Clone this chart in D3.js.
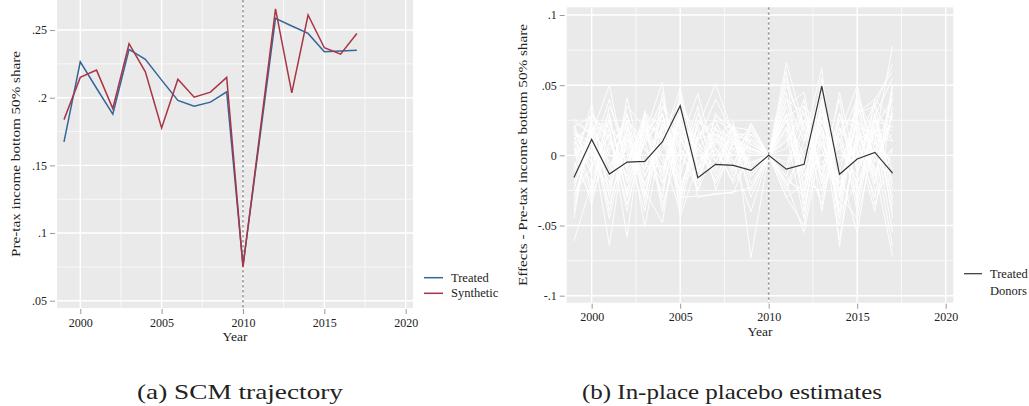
<!DOCTYPE html>
<html>
<head>
<meta charset="utf-8">
<script src="https://cdn.jsdelivr.net/npm/d3@7"></script>
<style>
  html, body { margin: 0; padding: 0; background: #fff; }
  svg { display: block; }
  svg text { font-family: "Liberation Serif", "Times New Roman", serif; fill: #222; }
</style>
</head>
<body>
<svg id="fig" width="1029" height="406"></svg>
<script>
// ---- data -------------------------------------------------------------
const years = [1999, 2000, 2001, 2002, 2003, 2004, 2005, 2006, 2007, 2008,
               2009, 2010, 2011, 2012, 2013, 2014, 2015, 2016, 2017];
const treatYear = 2010;

// Panel (a): bottom 50% pre-tax income share
const treatedShare = [0.1673, 0.2265, 0.2070, 0.1878, 0.2357, 0.2283, 0.2130, 0.1980, 0.1937, 0.1967,
                      0.2043, 0.0759, 0.1670, 0.2587, 0.2530, 0.2475, 0.2340, 0.2345, 0.2350];
const syntheticShare = [0.1838, 0.2150, 0.2204, 0.1920, 0.2399, 0.2191, 0.1776, 0.2137, 0.2004, 0.2041,
                        0.2150, 0.0750, 0.1700, 0.2656, 0.2036, 0.2611, 0.2369, 0.2322, 0.2475];

// Panel (b): in-place placebo effects
const treatedEffect = [-0.0157, 0.0114, -0.0133, -0.0048, -0.0043, 0.0097, 0.0353, -0.0160, -0.0064, -0.0071,
                       -0.0107, 0, -0.0098, -0.0064, 0.0494, -0.0135, -0.0026, 0.0021, -0.0126];

const donorEffects = [
  [0.012, 0.020, -0.008, 0.015, -0.010, 0.022, 0.005, -0.012, 0.010, 0.004, -0.006, 0, 0.030, -0.015, 0.020, -0.025, 0.015, 0.008, 0.022],
  [-0.061, -0.020, 0.010, -0.015, 0.018, -0.005, 0.012, 0.008, -0.004, 0.015, 0.010, 0, 0.066, 0.020, -0.010, 0.012, -0.020, 0.018, -0.010],
  [0.026, 0.015, 0.050, -0.012, 0.008, 0.030, -0.020, 0.005, 0.018, 0.012, 0.004, 0, -0.020, -0.055, 0.010, -0.030, 0.025, 0.010, 0.078],
  [-0.010, 0.037, -0.030, 0.041, -0.015, 0.010, 0.048, -0.010, 0.005, -0.008, 0.023, 0, 0.040, 0.010, 0.062, -0.065, 0.020, -0.015, 0.030],
  [0.005, -0.035, 0.020, -0.058, 0.032, -0.020, 0.010, 0.044, -0.005, 0.020, -0.015, 0, 0.010, 0.030, -0.020, 0.015, 0.050, -0.010, -0.072],
  [-0.030, 0.010, -0.064, 0.020, -0.051, 0.015, -0.010, 0.020, 0.051, 0.015, -0.010, 0, 0.025, -0.030, 0.035, -0.040, 0.030, 0.040, 0.060],
  [0.018, -0.010, 0.025, -0.020, 0.015, 0.052, -0.044, -0.005, 0.012, 0.024, -0.073, 0, -0.030, -0.020, 0.025, -0.010, -0.055, 0.020, -0.040],
  [0.008, 0.025, -0.015, 0.030, -0.025, -0.048, 0.035, -0.030, -0.027, -0.027, 0.005, 0, 0.050, 0.020, -0.015, 0.030, -0.010, 0.035, 0.010],
  [-0.020, 0.005, 0.030, -0.030, 0.025, 0.010, -0.025, 0.015, 0.020, -0.010, 0.012, 0, 0.015, -0.045, 0.040, -0.050, 0.010, -0.030, 0.045],
  [0.022, -0.015, 0.005, 0.012, -0.030, 0.035, 0.020, -0.015, 0.008, 0.018, -0.020, 0, -0.015, 0.025, 0.005, -0.035, 0.040, 0.015, -0.055],
  [-0.035, 0.018, -0.040, 0.025, 0.010, -0.030, 0.040, 0.010, -0.020, 0.005, 0.015, 0, 0.035, -0.010, -0.030, 0.020, -0.040, 0.025, 0.020],
  [0.000, 0.030, 0.012, -0.025, 0.030, 0.020, -0.035, 0.025, 0.015, -0.015, 0.008, 0, -0.010, 0.035, 0.020, -0.020, 0.005, -0.040, 0.035],
  [0.015, -0.025, 0.035, 0.005, -0.040, 0.025, 0.015, -0.020, 0.022, 0.010, -0.012, 0, 0.020, -0.005, 0.030, 0.010, -0.030, 0.030, -0.025],
  [-0.015, 0.012, -0.020, 0.035, 0.020, -0.015, 0.030, 0.000, -0.012, 0.020, 0.018, 0, 0.055, 0.015, -0.025, 0.025, 0.020, -0.020, 0.050],
  [0.010, -0.005, 0.015, -0.035, 0.012, 0.040, -0.015, 0.030, 0.005, -0.020, 0.000, 0, -0.025, 0.010, 0.045, -0.045, 0.035, 0.010, -0.030],
  [-0.040, 0.020, -0.025, 0.015, -0.020, 0.005, 0.025, -0.025, 0.030, 0.012, -0.025, 0, 0.030, -0.035, 0.015, 0.005, -0.015, 0.040, 0.025],
  [0.020, 0.000, 0.040, -0.010, 0.028, -0.035, 0.005, 0.018, -0.015, 0.008, 0.020, 0, 0.005, 0.040, -0.040, 0.030, -0.025, 0.005, 0.015],
  [-0.005, -0.030, 0.008, 0.020, -0.010, 0.030, -0.030, 0.012, 0.025, -0.005, -0.040, 0, -0.020, 0.005, 0.010, -0.025, 0.025, -0.025, -0.015],
  [0.015, 0.010, -0.035, 0.010, 0.005, -0.020, 0.045, -0.005, 0.010, 0.020, 0.010, 0, 0.045, -0.025, 0.050, -0.015, 0.010, 0.020, 0.040],
  [-0.025, 0.025, 0.020, -0.040, 0.022, 0.015, -0.005, 0.035, -0.025, 0.010, -0.005, 0, 0.010, 0.025, -0.010, 0.040, -0.035, 0.030, -0.045],
  [0.005, -0.020, -0.010, 0.025, -0.035, 0.045, -0.030, -0.029, -0.028, -0.026, -0.023, 0, -0.030, -0.050, 0.020, -0.060, 0.015, -0.010, 0.005],
  [0.024, 0.015, -0.015, 0.005, 0.015, -0.010, 0.020, 0.010, 0.040, 0.015, 0.015, 0, 0.020, -0.015, 0.000, 0.015, 0.030, 0.035, 0.065],
  [-0.008, 0.005, 0.025, -0.018, 0.010, 0.025, -0.020, -0.010, 0.015, 0.005, 0.005, 0, -0.005, 0.020, 0.035, -0.030, 0.045, -0.005, 0.028],
  [0.010, -0.012, 0.002, 0.028, -0.005, -0.025, 0.030, 0.020, 0.000, 0.022, -0.010, 0, 0.025, 0.000, -0.035, 0.020, -0.005, 0.025, -0.020],
  [-0.018, 0.022, -0.005, -0.008, 0.030, 0.010, 0.000, -0.018, 0.020, -0.012, 0.012, 0, -0.015, -0.030, 0.025, -0.005, 0.020, 0.015, 0.010],
  [0.002, 0.008, 0.018, 0.008, -0.022, 0.020, 0.015, 0.005, -0.008, 0.015, -0.030, 0, 0.040, 0.030, 0.015, -0.040, -0.020, 0.005, -0.065],
  [0.018, -0.005, -0.022, 0.018, 0.005, -0.012, 0.025, -0.008, 0.012, 0.000, 0.018, 0, 0.018, -0.020, -0.025, 0.010, 0.040, -0.015, 0.030],
  [-0.045, 0.030, 0.000, -0.005, 0.020, 0.000, -0.040, 0.015, 0.025, 0.018, 0.008, 0, 0.060, -0.040, 0.030, -0.020, 0.000, 0.028, 0.055],
  [0.008, -0.028, 0.028, -0.028, 0.012, 0.035, 0.005, -0.025, 0.005, -0.018, 0.022, 0, -0.008, 0.015, -0.005, 0.005, 0.015, -0.035, 0.005],
  [-0.012, 0.015, -0.045, 0.012, -0.015, 0.018, 0.038, 0.005, -0.018, 0.010, -0.008, 0, 0.012, -0.010, 0.055, -0.028, -0.045, 0.010, -0.005],
  [0.020, 0.028, 0.010, -0.015, 0.025, -0.040, 0.022, 0.012, 0.015, 0.008, 0.002, 0, 0.028, 0.035, -0.015, 0.025, 0.025, 0.000, 0.040],
  [-0.028, -0.008, 0.015, 0.022, -0.028, 0.015, -0.028, 0.025, 0.010, -0.005, 0.015, 0, -0.022, -0.005, 0.008, -0.015, 0.008, 0.038, -0.035],
  [0.012, 0.002, -0.028, -0.002, 0.018, 0.028, 0.012, -0.012, 0.028, 0.020, -0.015, 0, 0.035, 0.045, -0.020, 0.045, -0.012, 0.018, 0.018],
  [-0.002, 0.018, 0.022, 0.002, -0.008, -0.008, 0.028, 0.002, -0.010, 0.012, 0.005, 0, -0.018, -0.025, 0.040, -0.012, 0.035, -0.020, 0.050]
];

// Tick values and labels
const xTicks = [2000, 2005, 2010, 2015, 2020];
const xMinor = [2002.5, 2007.5, 2012.5, 2017.5];
const yTicksA = [0.05, 0.10, 0.15, 0.20, 0.25];
const yLabelsA = [".05", ".1", ".15", ".2", ".25"];
const yMinorA = [0.075, 0.125, 0.175, 0.225];
const yTicksB = [-0.1, -0.05, 0, 0.05, 0.1];
const yLabelsB = ["-.1", "-.05", "0", ".05", ".1"];
const yMinorB = [-0.075, -0.025, 0.025, 0.075];

const seriesNamesA = ["Treated", "Synthetic"];
const seriesNamesB = ["Treated", "Donors"];

// ---- styling ----------------------------------------------------------
const serifStack = '"Liberation Serif", "Times New Roman", serif';
const colTreated = "#33679a";
const colSynth = "#a83545";
const colEffect = "#333333";
const panelBg = "#eaeaea";

const svg = d3.select("#fig");

function drawPanel(cfg) {
  const g = svg.append("g");
  const x = d3.scaleLinear().domain(cfg.xDomain).range([cfg.left, cfg.right]);
  const y = d3.scaleLinear().domain(cfg.yDomain).range([cfg.bottom, cfg.top]);

  g.append("rect")
    .attr("x", cfg.left).attr("y", cfg.top)
    .attr("width", cfg.right - cfg.left).attr("height", cfg.bottom - cfg.top)
    .attr("fill", panelBg);

  // minor grid
  g.selectAll(".vminor").data(xMinor).join("line")
    .attr("x1", d => x(d)).attr("x2", d => x(d))
    .attr("y1", cfg.top).attr("y2", cfg.bottom)
    .attr("stroke", "#fff").attr("stroke-width", 0.7);
  g.selectAll(".hminor").data(cfg.yMinor).join("line")
    .attr("x1", cfg.left).attr("x2", cfg.right)
    .attr("y1", d => y(d)).attr("y2", d => y(d))
    .attr("stroke", "#fff").attr("stroke-width", 0.7);
  // major grid
  g.selectAll(".vmajor").data(xTicks).join("line")
    .attr("x1", d => x(d)).attr("x2", d => x(d))
    .attr("y1", cfg.top).attr("y2", cfg.bottom)
    .attr("stroke", "#fff").attr("stroke-width", 1.4);
  g.selectAll(".hmajor").data(cfg.yTicks).join("line")
    .attr("x1", cfg.left).attr("x2", cfg.right)
    .attr("y1", d => y(d)).attr("y2", d => y(d))
    .attr("stroke", "#fff").attr("stroke-width", 1.4);

  // axes
  const yAxis = d3.axisLeft(y).tickValues(cfg.yTicks)
    .tickFormat((d, i) => cfg.yLabels[i]).tickSize(5).tickPadding(3);
  const ya = g.append("g").attr("transform", `translate(${cfg.left - 2},0)`).call(yAxis);
  const xAxis = d3.axisBottom(x).tickValues(xTicks).tickFormat(d3.format("d"))
    .tickSize(5).tickPadding(4);
  const xa = g.append("g").attr("transform", `translate(0,${cfg.bottom + 1})`).call(xAxis);
  [ya, xa].forEach(a => {
    a.attr("font-family", serifStack);
    a.select(".domain").remove();
    a.selectAll(".tick line").attr("stroke", "#999");
    a.selectAll(".tick text")
      .style("font-family", serifStack)
      .style("font-size", "12px").attr("fill", "#222");
  });

  // axis titles
  g.append("text")
    .attr("x", (cfg.left + cfg.right) / 2).attr("y", cfg.xTitleY)
    .attr("text-anchor", "middle").style("font-size", "13.5px").text("Year");
  g.append("text")
    .attr("transform", `translate(${cfg.yTitleX},${(cfg.top + cfg.bottom) / 2}) rotate(-90)`)
    .attr("text-anchor", "middle").attr("dominant-baseline", "central")
    .attr("textLength", cfg.yTitleLen).attr("lengthAdjust", "spacingAndGlyphs")
    .style("font-size", "13.5px").text(cfg.yTitle);

  return { g, x, y };
}

// ---- panel (a) --------------------------------------------------------
const A = drawPanel({
  left: 57, right: 413, top: 0, bottom: 308,
  xDomain: [1998.57, 2020.45], yDomain: [0.0446, 0.2722],
  yTicks: yTicksA, yLabels: yLabelsA, yMinor: yMinorA,
  yTitle: "Pre-tax income bottom 50% share", yTitleX: 15, yTitleLen: 206,
  xTitleY: 341
});

A.g.append("line")
  .attr("x1", A.x(treatYear)).attr("x2", A.x(treatYear))
  .attr("y1", 0).attr("y2", 308)
  .attr("stroke", "#9a9a9a").attr("stroke-width", 1.6).attr("stroke-dasharray", "2.5,2.5");

const lineA = d3.line().x((d, i) => A.x(years[i])).y(d => A.y(d));
A.g.append("path").datum(treatedShare).attr("d", lineA)
  .attr("fill", "none").attr("stroke", colTreated).attr("stroke-width", 1.5);
A.g.append("path").datum(syntheticShare).attr("d", lineA)
  .attr("fill", "none").attr("stroke", colSynth).attr("stroke-width", 1.5);

const legA = A.g.append("g");
[colTreated, colSynth].forEach((c, i) => {
  const ly = 277.7 + i * 15.6;
  legA.append("line").attr("x1", 424).attr("x2", 443).attr("y1", ly).attr("y2", ly)
    .attr("stroke", c).attr("stroke-width", 1.5);
  legA.append("text").attr("x", 451).attr("y", ly).attr("dominant-baseline", "central")
    .style("font-size", "12.5px").text(seriesNamesA[i]);
});

// ---- panel (b) --------------------------------------------------------
const B = drawPanel({
  left: 566.7, right: 953.3, top: 7.3, bottom: 302.7,
  xDomain: [1998.59, 2020.43], yDomain: [-0.105, 0.1055],
  yTicks: yTicksB, yLabels: yLabelsB, yMinor: yMinorB,
  yTitle: "Effects - Pre-tax income bottom 50% share", yTitleX: 522, yTitleLen: 262,
  xTitleY: 336
});

const lineB = d3.line().x((d, i) => B.x(years[i])).y(d => B.y(d));
B.g.append("g").selectAll("path").data(donorEffects).join("path")
  .attr("d", lineB).attr("fill", "none")
  .attr("stroke", "#ffffff").attr("stroke-width", 1).attr("stroke-opacity", 0.9);

B.g.append("line")
  .attr("x1", B.x(treatYear)).attr("x2", B.x(treatYear))
  .attr("y1", 7.3).attr("y2", 302.7)
  .attr("stroke", "#9a9a9a").attr("stroke-width", 1.6).attr("stroke-dasharray", "2.5,2.5");

B.g.append("path").datum(treatedEffect).attr("d", lineB)
  .attr("fill", "none").attr("stroke", colEffect).attr("stroke-width", 1.2);

const legB = B.g.append("g");
[colEffect, "#ffffff"].forEach((c, i) => {
  const ly = 273.7 + i * 17;
  legB.append("line").attr("x1", 964).attr("x2", 982).attr("y1", ly).attr("y2", ly)
    .attr("stroke", c).attr("stroke-width", 1.2);
  legB.append("text").attr("x", 990).attr("y", ly).attr("dominant-baseline", "central")
    .style("font-size", "12.5px").text(seriesNamesB[i]);
});

// ---- captions ---------------------------------------------------------
svg.append("text").attr("x", 137).attr("y", 399)
  .attr("textLength", 206).attr("lengthAdjust", "spacingAndGlyphs")
  .style("font-size", "21px").text("(a) SCM trajectory");
svg.append("text").attr("x", 582).attr("y", 399)
  .attr("textLength", 300).attr("lengthAdjust", "spacingAndGlyphs")
  .style("font-size", "21px").text("(b) In-place placebo estimates");
</script>
</body>
</html>
